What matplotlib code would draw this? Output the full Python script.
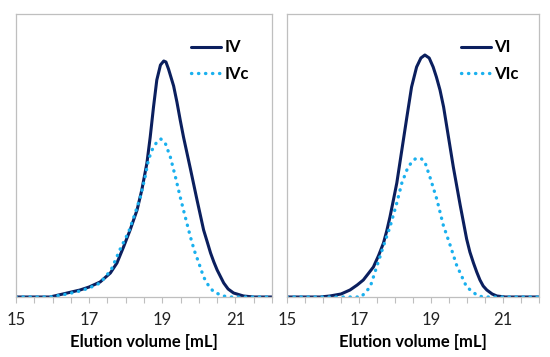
import matplotlib.pyplot as plt
from matplotlib.ticker import MultipleLocator

# Elution volume [mL] and detector signal (arbitrary units)
iv_x = [15, 15.93, 16.40, 16.75, 17.0, 17.30, 17.58, 17.76, 17.94, 18.12, 18.31, 18.44, 18.58,
        18.67, 18.76, 18.85, 18.95, 19.04, 19.10, 19.17, 19.31, 19.40, 19.49, 19.58, 19.77,
        19.95, 20.04, 20.13, 20.23, 20.32, 20.41, 20.50, 20.68, 20.80, 20.95, 21.22, 21.5, 22]
iv_y = [0, 0, 0.04, 0.07, 0.10, 0.15, 0.24, 0.34, 0.50, 0.67, 0.87, 1.07, 1.34,
        1.60, 1.90, 2.17, 2.32, 2.36, 2.35, 2.28, 2.11, 1.95, 1.77, 1.60, 1.28,
        0.97, 0.82, 0.67, 0.55, 0.44, 0.35, 0.27, 0.14, 0.08, 0.04, 0.01, 0, 0]

ivc_x = [15, 15.93, 16.40, 16.75, 17.0, 17.30, 17.60, 17.85, 18.08, 18.26, 18.40, 18.53, 18.62,
         18.72, 18.85, 18.96, 19.08, 19.22, 19.36, 19.49, 19.60, 19.77, 19.88, 19.99, 20.13,
         20.27, 20.41, 20.67, 20.86, 22]
ivc_y = [0, 0, 0.03, 0.06, 0.09, 0.14, 0.27, 0.48, 0.65, 0.84, 1.00, 1.20, 1.37,
         1.47, 1.55, 1.58, 1.54, 1.40, 1.20, 1.00, 0.84, 0.60, 0.46, 0.35, 0.20,
         0.11, 0.05, 0.01, 0, 0]

vi_x = [15, 15.92, 16.19, 16.50, 16.75, 16.95, 17.12, 17.25, 17.40, 17.55, 17.68, 17.77, 17.86,
        17.95, 18.05, 18.19, 18.33, 18.46, 18.60, 18.72, 18.83, 18.95, 19.06, 19.15, 19.25,
        19.35, 19.44, 19.62, 19.81, 19.99, 20.08, 20.18, 20.27, 20.36, 20.45, 20.55, 20.70,
        20.83, 21.06, 22]
vi_y = [0, 0, 0.01, 0.03, 0.07, 0.12, 0.17, 0.23, 0.30, 0.42, 0.54, 0.66, 0.80,
        0.96, 1.14, 1.47, 1.80, 2.10, 2.30, 2.39, 2.42, 2.39, 2.30, 2.20, 2.07,
        1.90, 1.70, 1.30, 0.92, 0.58, 0.45, 0.34, 0.25, 0.17, 0.11, 0.07, 0.03,
        0.01, 0, 0]

vic_x = [15, 17.06, 17.31, 17.49, 17.67, 17.86, 18.05, 18.19, 18.33, 18.46, 18.56, 18.65, 18.74,
         18.83, 18.97, 19.16, 19.34, 19.53, 19.71, 19.90, 19.99, 20.27, 20.44, 22]
vic_y = [0, 0, 0.10, 0.30, 0.50, 0.70, 0.94, 1.14, 1.27, 1.35, 1.38, 1.39, 1.38,
         1.35, 1.20, 0.98, 0.72, 0.52, 0.32, 0.17, 0.10, 0.02, 0, 0]

panels = [
    ('IV', 'IVc', iv_x, iv_y, ivc_x, ivc_y),
    ('VI', 'VIc', vi_x, vi_y, vic_x, vic_y),
]

major_ticks = [15, 17, 19, 21]

navy = '#0b1f5e'
sky = '#1ab0ee'
grey = '#bfbfbf'

fig = plt.figure(figsize=(5.5, 3.57), dpi=100)
axes = [fig.add_axes([16 / 550, 60 / 357, 256 / 550, 283 / 357]),
        fig.add_axes([287 / 550, 60 / 357, 252 / 550, 283 / 357])]
legend_left = [0.685, 0.69]

for ax, (name, name_c, x1, y1, x2, y2), lx in zip(axes, panels, legend_left):
    ax.plot(x1, y1, color=navy, lw=2.2, label=name,
            solid_capstyle='round', solid_joinstyle='round')
    ax.plot(x2, y2, color=sky, lw=2.4, linestyle=(0, (0.1, 2.0)),
            dash_capstyle='round', label=name_c)

    ax.set_xlim(15, 22)
    ax.set_ylim(0, 2.83)
    ax.set_yticks([])
    ax.set_xticks(major_ticks)
    ax.xaxis.set_minor_locator(MultipleLocator(0.5))
    ax.tick_params(axis='x', which='both', direction='out', length=4,
                   width=0.8, color=grey, pad=7, labelsize=12, labelcolor='#222222')
    for lab in ax.get_xticklabels():
        lab.set_fontfamily('Lato')
    for sp in ax.spines.values():
        sp.set_color(grey)
        sp.set_linewidth(0.9)

    ax.set_xlabel('Elution volume [mL]', fontsize=12, fontweight='bold',
                  family='Lato', labelpad=4)

    leg = ax.legend(loc='upper left', bbox_to_anchor=(lx, 0.91), frameon=False,
                    handlelength=1.8, handletextpad=0.2, borderpad=0, borderaxespad=0,
                    labelspacing=0.65, prop={'family': 'Lato', 'weight': 'bold', 'size': 12})

fig.savefig('out.png', dpi=100)
